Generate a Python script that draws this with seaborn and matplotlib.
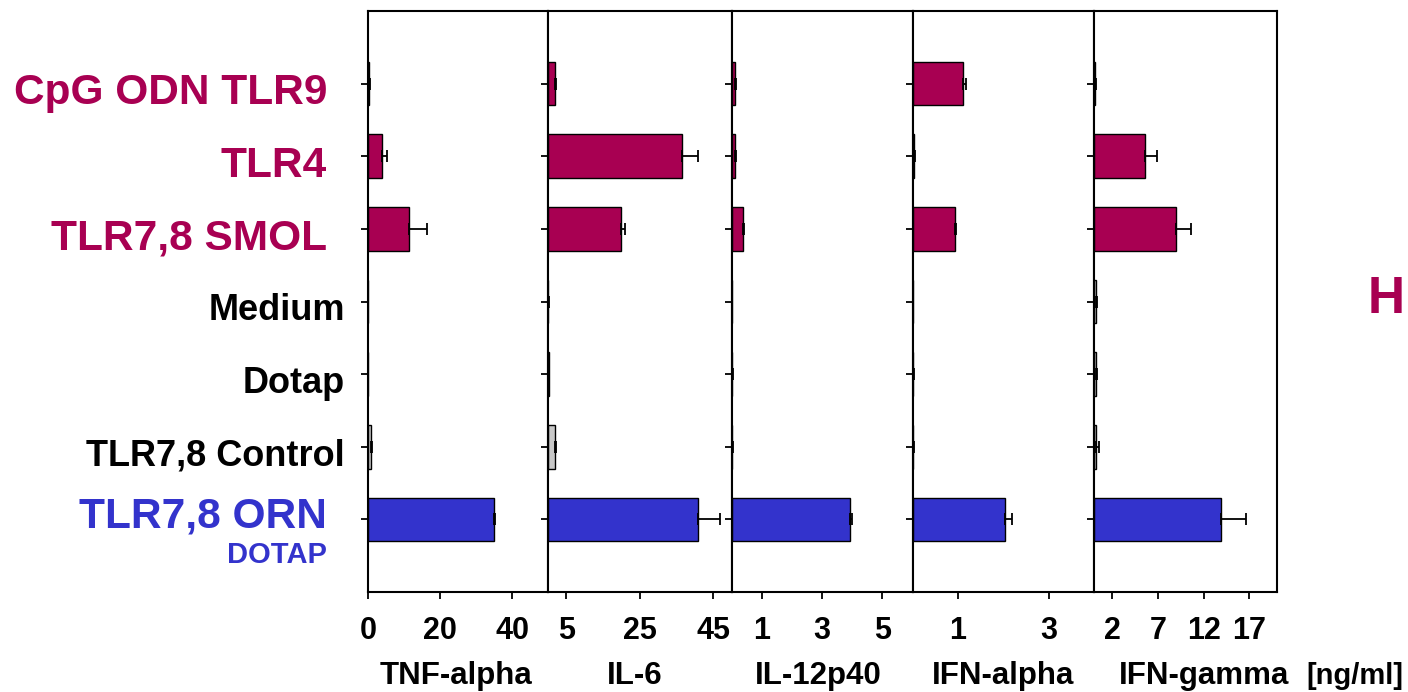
"""Cytokine panels: horizontal bars per TLR stimulus."""

import matplotlib.pyplot as plt
import matplotlib.transforms as mtransforms
import numpy as np
import seaborn as sns

categories = ["CpG ODN TLR9", "TLR4", "TLR7,8 SMOL", "Medium", "Dotap",
              "TLR7,8 Control", "TLR7,8 ORN"]
cytokines = ["TNF-alpha", "IL-6", "IL-12p40", "IFN-alpha", "IFN-gamma"]

tnf = [0.3, 3.8, 11.5, 0.0, 0.0, 0.8, 35.0]
tnf_err = [0.3, 1.4, 4.9, 0.0, 0.0, 0.3, 0.3]
il6 = [1.8, 36.5, 19.9, 0.1, 0.2, 1.8, 40.8]
il6_err = [0.3, 4.3, 1.2, 0.1, 0.1, 0.3, 6.0]
il12 = [0.1, 0.1, 0.37, 0.0, 0.02, 0.02, 3.93]
il12_err = [0.03, 0.03, 0.05, 0.0, 0.03, 0.03, 0.05]
ifna = [1.12, 0.04, 0.93, 0.0, 0.01, 0.01, 2.04]
ifna_err = [0.07, 0.02, 0.03, 0.0, 0.02, 0.02, 0.15]
ifng = [0.1, 5.6, 9.0, 0.2, 0.2, 0.25, 13.9]
ifng_err = [0.1, 1.35, 1.6, 0.1, 0.1, 0.3, 2.7]

xlims = [50, 50, 6, 4, 20]
xticks = [[0, 20, 40], [5, 25, 45], [1, 3, 5], [1, 3], [2, 7, 12, 17]]

MAGENTA = "#A80052"
BLUE = "#3333CC"
GREY = "#C8C8C8"
bar_colors = [MAGENTA, MAGENTA, MAGENTA, GREY, GREY, GREY, BLUE]
label_colors = [MAGENTA, MAGENTA, MAGENTA, "black", "black", "black", BLUE]

sns.set_theme(style="white")
plt.rcParams["font.family"] = ["Liberation Sans", "DejaVu Sans"]
plt.rcParams["font.weight"] = "bold"

fig = plt.figure(figsize=(14.08, 6.92), dpi=100)
W, H = 1408, 692

edges = [368, 548, 731.6, 912.5, 1094, 1276.7]
top, bottom = 11, 592

values = [tnf, il6, il12, ifna, ifng]
errors = [tnf_err, il6_err, il12_err, ifna_err, ifng_err]
title_x = [0.49, 0.47, 0.48, 0.50, 0.60]

axes = []
for i in range(5):
    ax = fig.add_axes([edges[i] / W, 1 - bottom / H,
                       (edges[i + 1] - edges[i]) / W, (bottom - top) / H])
    axes.append(ax)
    sns.barplot(x=values[i], y=categories, hue=categories, palette=bar_colors,
                saturation=1, orient="h", width=0.6, edgecolor="black",
                linewidth=1, errorbar=None, legend=False, ax=ax)
    ypos = np.arange(len(categories))
    ax.errorbar(values[i], ypos, xerr=[np.zeros(len(ypos)), errors[i]],
                fmt="none", ecolor="black", elinewidth=1.3, capsize=4.5,
                capthick=1.3, zorder=1)
    ax.set_xlim(0, xlims[i])
    ax.set_ylim(7, -1)
    ax.set_xticks(xticks[i])
    ax.set_xticklabels([str(t) for t in xticks[i]], fontsize=22,
                       fontweight="bold")
    ax.set_yticks(ypos)
    ax.set_yticklabels([])
    ax.set_xlabel("")
    ax.set_ylabel("")
    for s in ax.spines.values():
        s.set_visible(True)
        s.set_color("black")
        s.set_linewidth(1.5)
    ax.tick_params(axis="x", direction="out", length=5, width=1.3,
                   bottom=True, pad=12, colors="black")
    ax.tick_params(axis="y", direction="out", length=5, width=1.3,
                   left=True, colors="black")
    ax.set_facecolor("white")
    ax.text(title_x[i], (bottom - 684) / (bottom - top), cytokines[i],
            transform=ax.transAxes, ha="center", va="baseline",
            fontsize=22.5, fontweight="bold", color="black")

# group labels on the left
ax0 = axes[0]
trans = mtransforms.blended_transform_factory(ax0.transAxes, ax0.transData)
for i, (lab, col) in enumerate(zip(categories, label_colors)):
    if col == "black":
        x, size, base = (345 - 368) / 180, 26, i + 0.26
    elif i == 6:
        x, size, base = (327 - 368) / 180, 30.5, i + 0.11
    else:
        x, size, base = (327 - 368) / 180, 30.5, i + 0.28
    ax0.text(x, base, lab, transform=trans, ha="right", va="baseline",
             fontsize=size, fontweight="bold", color=col, clip_on=False)
ax0.text((327 - 368) / 180, 6.6, "DOTAP", transform=trans, ha="right",
         va="baseline", fontsize=21, fontweight="bold", color=BLUE,
         clip_on=False)

fig.text(1403 / W, 1 - 684 / H, "[ng/ml]", ha="right", va="baseline",
         fontsize=21, fontweight="bold", color="black")
fig.text(1386 / W, 1 - 300 / H, "H", ha="center", va="center",
         fontsize=37, fontweight="bold", color=MAGENTA)

fig.savefig("out.png", dpi=100, facecolor="white")
